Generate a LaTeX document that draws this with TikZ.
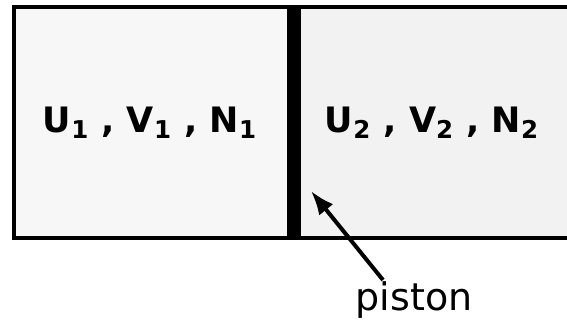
\documentclass[tikz,border=0pt]{standalone}
\usepackage{fontspec}
\setmainfont{DejaVu Sans}
\usetikzlibrary{arrows.meta}

\begin{document}
\begin{tikzpicture}[x=0.5pt, y=-0.5pt,
        wall/.style = {line width=2pt},
        gas/.style = {font=\bfseries\fontsize{17.5}{20}\selectfont},
        note/.style = {font=\fontsize{19}{22}\selectfont}]
        \useasboundingbox (0,0) rectangle (567,327);
        % the two chambers
        \fill[black!3] (14,7) rectangle (294,238);
        \fill[black!5] (294,7) rectangle (567,238);
        \draw[wall] (567,7) -- (14,7) -- (14,238) -- (567,238);
        \node[fill=black, inner sep=0, minimum width=7pt, minimum height=117.5pt] (piston) at (294,122.5) {};
        \node[gas] (left) at (150,123) {U\textsubscript{1} , V\textsubscript{1} , N\textsubscript{1}};
        \node[gas] (right) at (432,123) {U\textsubscript{2} , V\textsubscript{2} , N\textsubscript{2}};
        \node[note] (label) at (414,300) {piston};
        \coordinate (tail) at (383,280);
        \coordinate (tip) at (311,191);
        \draw[-{Latex[length=12pt, width=9pt]}, line width=2pt] (tail) -- (tip);
    \end{tikzpicture}
\end{document}
